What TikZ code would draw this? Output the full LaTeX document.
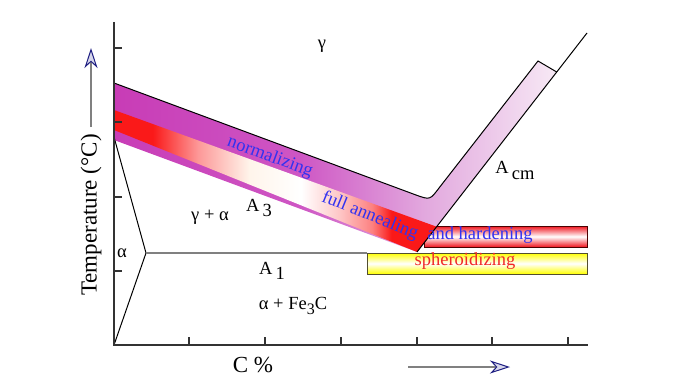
\documentclass[tikz,border=0pt]{standalone}
\usepackage{fontspec}
\setmainfont{Liberation Serif}
\usetikzlibrary{arrows.meta}

\definecolor{normdark}{RGB}{200,60,182}
\definecolor{normmid}{RGB}{206,86,196}
\definecolor{normpale}{RGB}{226,168,222}
\definecolor{normlight}{RGB}{247,233,245}
\definecolor{fared}{RGB}{250,25,25}
\definecolor{txtblue}{RGB}{50,50,240}
\definecolor{txtred}{RGB}{240,40,40}
\definecolor{boxred}{RGB}{240,20,30}
\definecolor{boxyellow}{RGB}{255,255,0}
\definecolor{arrowfill}{RGB}{215,215,235}
\definecolor{arrowline}{RGB}{30,30,130}

\pgfdeclarehorizontalshading{normband}{100bp}{color(0bp)=(normdark); color(25bp)=(normdark);
  color(46bp)=(normmid); color(60bp)=(normpale); color(75bp)=(normlight); color(100bp)=(normlight)}
\pgfdeclarehorizontalshading{annealband}{100bp}{color(0bp)=(fared); color(25bp)=(fared);
  color(31bp)=(fared); color(38bp)=(fared!45!white); color(46bp)=(white!92!orange);
  color(54bp)=(white); color(60bp)=(fared!25!white); color(65bp)=(fared!55!white);
  color(68bp)=(fared); color(100bp)=(fared)}

\begin{document}
\begin{tikzpicture}[x=1pt,y=-1pt,
  lbl/.style={font=\fontsize{18.5}{20}\selectfont, inner sep=0pt},
  axlbl/.style={font=\fontsize{23}{25}\selectfont, inner sep=0pt},
  axis/.style={draw=black!80, line width=1.3pt},
  edge/.style={draw=black, line width=1pt},
  axarrow/.style={draw=gray, line width=1.4pt,
    -{Stealth[length=20pt,width=13pt,inset=6pt,fill=arrowfill,color=arrowline,line width=1pt]}}]
\useasboundingbox (0,0) rectangle (700,390);
%\draw[help lines,step=10] (0,0) grid (700,390);
\def\ticklen{8}

\coordinate (org) at (114,345);
\coordinate (tl) at (114,83);
\coordinate (c1) at (416,195);
\coordinate (ck) at (430,200);
\coordinate (c2) at (439,188);
\coordinate (arm) at (538,61);
\coordinate (cap) at (556.7,72);
\coordinate (eut) at (417,252);
\coordinate (acm) at (587,33);
\coordinate (bl) at (114,140);
\coordinate (fa1) at (114,110);
\coordinate (fa2) at (436.6,226.7);
\coordinate (fa3) at (114,130);
\coordinate (a3l) at (114,137);
\coordinate (alf) at (146,253);
\coordinate (a1r) at (367,253);

% process boxes
\draw [top color=boxyellow, bottom color=boxyellow, middle color=white, draw=black!55!olive, line width=0.8pt] (367,253) rectangle (587,274);
\draw [top color=boxred, bottom color=boxred, middle color=white, draw=black!70!red, line width=0.8pt] (424,226) rectangle (587,247);

% normalizing and full annealing bands
\shade [shading=normband] (tl) -- (c1) .. controls (ck) .. (c2) -- (arm) -- (cap) -- (eut) -- (bl) -- cycle;
\shade [shading=annealband] (fa1) -- (fa2) -- (eut) -- (fa3) -- cycle;
\draw [edge] (tl) -- (c1) .. controls (ck) .. (c2) -- (arm) -- (cap);
\draw [edge] (eut) -- (acm);

% phase lines
\draw [edge] (a3l) -- (alf) -- (org);
\draw [draw=gray, line width=1.2pt] (alf) -- (a1r);

% axes
\draw [axis] (114,22) -- (org) -- (588,345);
\foreach \y in {48,122,197,271}
  \draw [axis] (114,\y) -- (114+\ticklen,\y);
\foreach \x in {189,265,341,417,492,568}
  \draw [axis] (\x,345) -- (\x,345-\ticklen);

\node [lbl] (gam) at (322,46) {γ};
\node [lbl, text=txtblue, rotate=-20] (norm) at (270,157) {normalizing};
\node [lbl, text=txtblue, rotate=-22] (fann) at (370,216) {full annealing};
\node [lbl, text=txtblue] (hard) at (480,235) {and hardening};
\node [lbl, text=txtred] (sph) at (465,261) {spheroidizing};
\node [lbl] (acmlbl) at (515,170) {A\,\raisebox{-6pt}{cm}};
\node [lbl] (a3lbl) at (259,208) {A\,\raisebox{-5pt}{3}};
\node [lbl] (galf) at (210,217) {γ + α};
\node [lbl] (alfa) at (122,253) {α};
\node [lbl] (a1lbl) at (272,271) {A\,\raisebox{-5pt}{1}};
\node [lbl] (pearl) at (293,306) {α + Fe\raisebox{-5pt}{\fontsize{16}{16}\selectfont 3}C};

\node [axlbl] (cpct) at (253,365) {C\ \%};
\node [axlbl, rotate=90] (temp) at (91,215) {Temperature (°C)};
\coordinate (tup) at (92,48);
\coordinate (cfrom) at (408,367);
\coordinate (cto) at (510,367);
\draw [axarrow, shorten <=7pt] (temp.east) -- (temp.east |- tup);
\draw [axarrow] (cfrom) -- (cto);
\end{tikzpicture}
\end{document}
